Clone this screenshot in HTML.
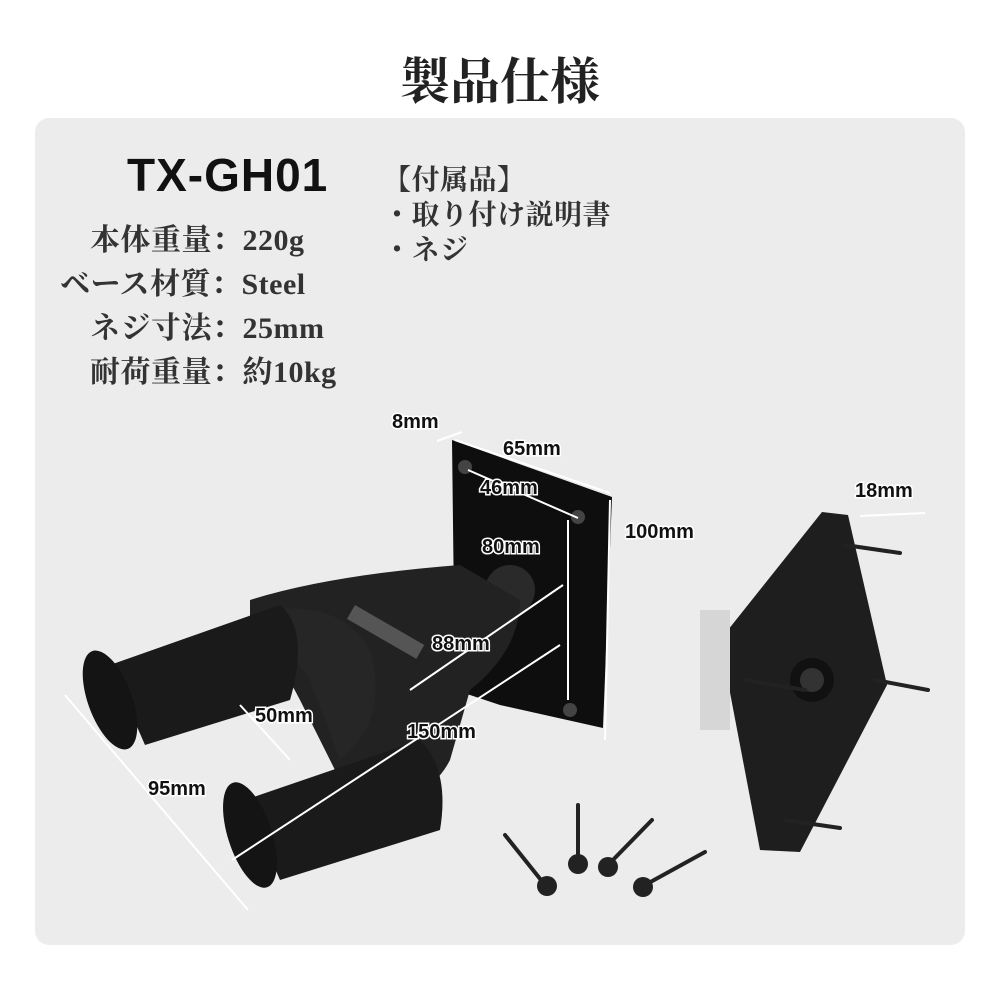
<!DOCTYPE html>
<html><head><meta charset="utf-8"><style>
body{margin:0;width:1000px;height:1000px;background:#fff;position:relative;overflow:hidden;font-family:"Liberation Sans","Noto Sans CJK JP",sans-serif}
.title{position:absolute;top:42px;left:0;width:1000px;text-align:center;font-family:"Liberation Serif","Noto Serif CJK SC",serif;font-weight:bold;font-size:50px;color:#222}
.panel{position:absolute;left:35px;top:118px;width:930px;height:827px;background:#ececec;border-radius:14px}
.t{position:absolute;font-family:"Liberation Serif","Noto Serif CJK SC",serif;font-weight:bold;font-size:30px;color:#333;white-space:nowrap;letter-spacing:0.5px}
.model{position:absolute;left:127px;top:148px;font-size:46px;font-weight:900;color:#111;font-family:"Liberation Sans",sans-serif;letter-spacing:1px}
svg{position:absolute;left:0;top:0}
</style></head><body>
<div class="title">製品仕様</div>
<div class="panel"></div>
<div class="model">TX-GH01</div>
<div class="t" style="left:90px;top:215px">本体重量：220g</div>
<div class="t" style="left:60px;top:259px">ベース材質：Steel</div>
<div class="t" style="left:90px;top:303px">ネジ寸法：25mm</div>
<div class="t" style="left:90px;top:347px">耐荷重量：約10kg</div>
<div class="t" style="left:383px;top:158px;font-size:28px">【付属品】</div>
<div class="t" style="left:383px;top:193px;font-size:28px">・取り付け説明書</div>
<div class="t" style="left:383px;top:228px;font-size:28px">・ネジ</div>
<svg width="1000" height="1000" viewBox="0 0 1000 1000">
<g fill="#1c1c1c">
<polygon points="452,440 612,497 603,728 500,705 455,690" fill="#0e0e0e"/>
<circle cx="465" cy="467" r="7" fill="#444"/><circle cx="578" cy="517" r="7" fill="#444"/><circle cx="570" cy="710" r="7" fill="#444"/>
<circle cx="510" cy="590" r="25" fill="#2a2a2a"/>
<path d="M250,600 Q330,575 460,565 L520,600 Q520,650 470,690 L450,760 Q430,800 360,820 L300,700 Q280,660 250,640 Z" fill="#222"/>
<path d="M270,610 Q340,600 370,650 Q390,720 340,760 L310,680 Q290,650 270,640Z" fill="#262626"/>
<path d="M110,665 L280,605 Q310,630 290,700 L145,745 Z" fill="#1a1a1a"/>
<ellipse cx="110" cy="700" rx="22" ry="52" fill="#141414" transform="rotate(-20 110 700)"/>
<path d="M245,800 L420,740 Q450,770 440,830 L280,880 Z" fill="#1a1a1a"/>
<ellipse cx="250" cy="835" rx="22" ry="55" fill="#141414" transform="rotate(-18 250 835)"/>
<rect x="355" y="605" width="80" height="16" fill="#555" transform="rotate(30 355 605)"/>
<polygon points="822,512 848,515 887,685 800,852 760,850 720,640" fill="#1e1e1e"/>
<rect x="700" y="610" width="30" height="120" fill="#d6d6d6"/>
<circle cx="812" cy="680" r="22" fill="#111"/><circle cx="812" cy="680" r="12" fill="#333"/>
</g>
<g stroke="#222" stroke-width="4" stroke-linecap="round">
<line x1="845" y1="545" x2="900" y2="553"/><line x1="745" y1="680" x2="805" y2="690"/>
<line x1="875" y1="680" x2="928" y2="690"/><line x1="785" y1="820" x2="840" y2="828"/>
<line x1="505" y1="835" x2="545" y2="885"/><line x1="578" y1="805" x2="578" y2="862"/>
<line x1="652" y1="820" x2="608" y2="865"/><line x1="705" y1="852" x2="645" y2="885"/>
</g>
<g fill="#222"><circle cx="547" cy="886" r="10"/><circle cx="578" cy="864" r="10"/><circle cx="608" cy="867" r="10"/><circle cx="643" cy="887" r="10"/></g>
<g stroke="#fff" stroke-width="2" fill="none">
<line x1="455" y1="440" x2="610" y2="493"/><line x1="468" y1="470" x2="578" y2="518"/>
<line x1="568" y1="520" x2="568" y2="700"/><line x1="610" y1="500" x2="605" y2="740"/>
<line x1="410" y1="690" x2="563" y2="585"/><line x1="232" y1="860" x2="560" y2="645"/>
<line x1="65" y1="695" x2="248" y2="910"/><line x1="240" y1="705" x2="290" y2="760"/>
<line x1="860" y1="516" x2="925" y2="513"/><line x1="437" y1="441" x2="462" y2="432"/>
</g>
<g font-family="Liberation Sans,sans-serif" font-weight="bold" font-size="20" fill="#111" stroke="#fff" stroke-width="3" paint-order="stroke">
<text x="392" y="428">8mm</text><text x="503" y="455">65mm</text><text x="480" y="494">46mm</text>
<text x="482" y="553">80mm</text><text x="625" y="538">100mm</text><text x="432" y="650">88mm</text>
<text x="255" y="722">50mm</text><text x="407" y="738">150mm</text><text x="148" y="795">95mm</text>
<text x="855" y="497">18mm</text>
</g>
</svg>
</body></html>
